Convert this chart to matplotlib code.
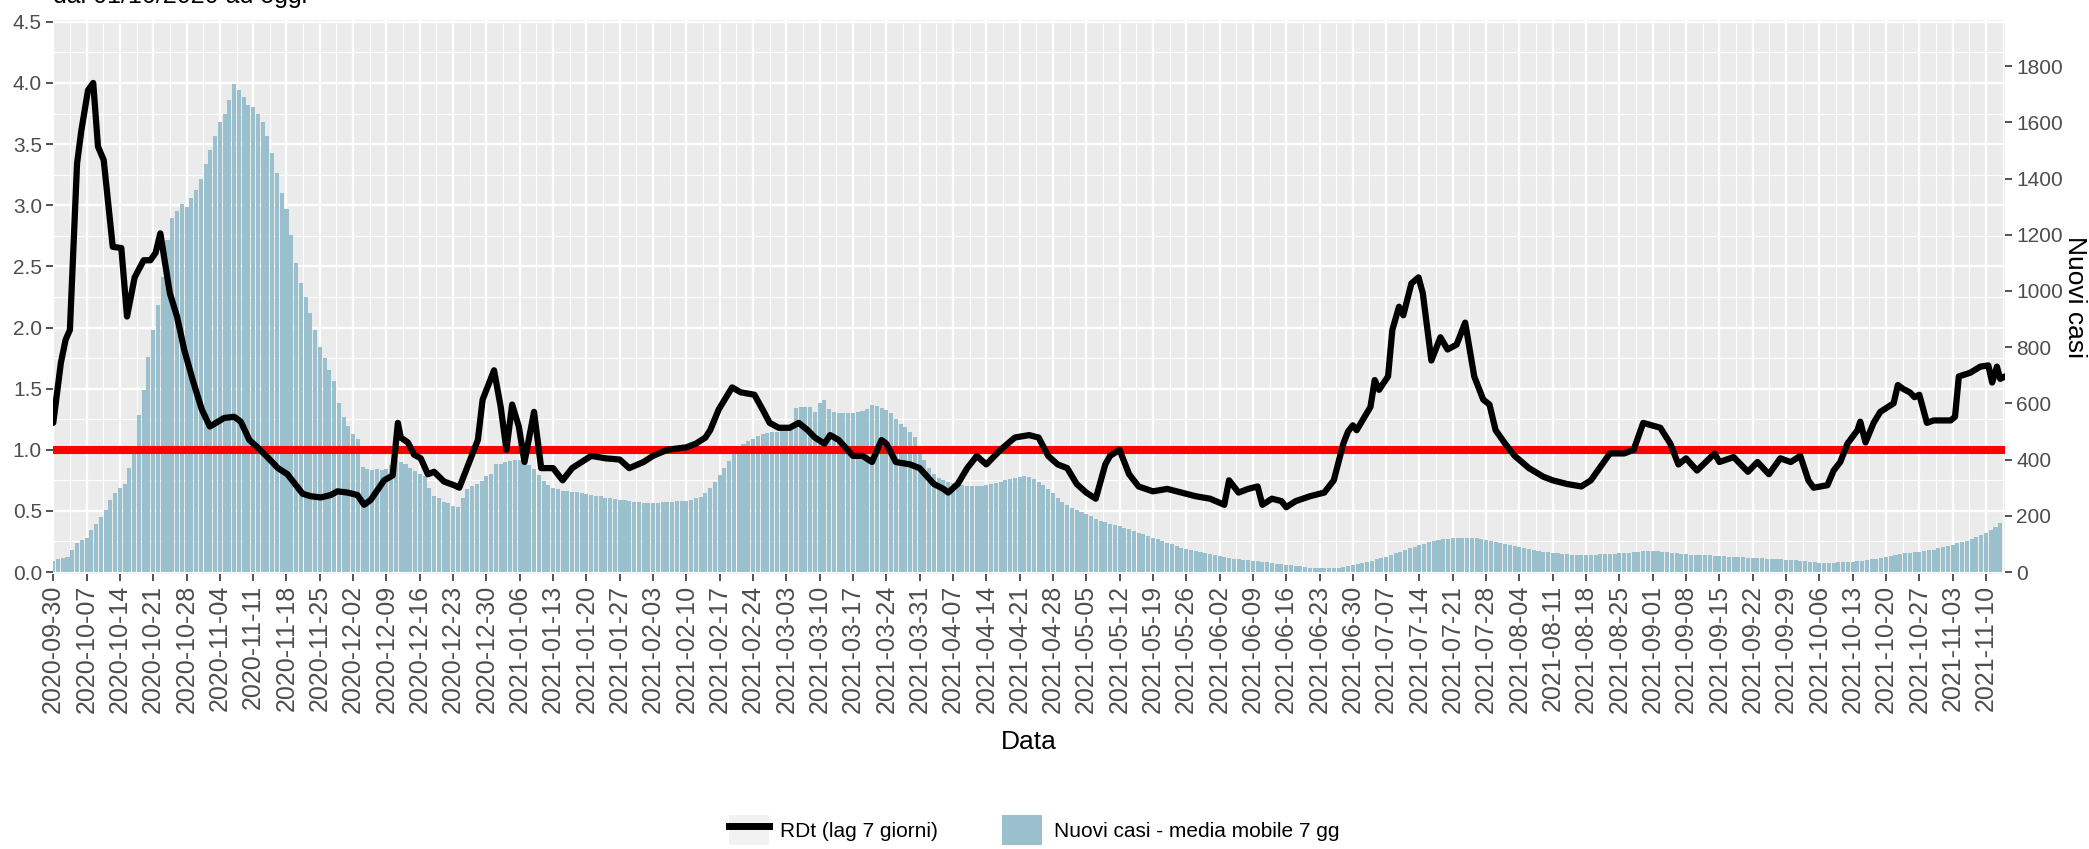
import numpy as np
import datetime as dt
import matplotlib
matplotlib.use('Agg')
import matplotlib.pyplot as plt
import matplotlib.dates as mdates
from matplotlib.patches import Patch
from matplotlib.lines import Line2D
from matplotlib.legend_handler import HandlerTuple
from matplotlib.ticker import FixedLocator, MultipleLocator, FormatStrFormatter

plt.rcParams['font.family'] = ['Liberation Sans', 'DejaVu Sans']

# ---------------- data ----------------
start_date = dt.datetime(2020, 9, 30)

# new cases, 7-day moving average (one value per day from 2020-09-30)
cases = [
    40, 45, 50, 52, 80, 105, 113, 120, 150, 170, 195, 220, 255, 280,
    300, 315, 370, 440, 560, 648, 765, 860, 950, 1050, 1180, 1260, 1285, 1310,
    1300, 1330, 1360, 1400, 1450, 1500, 1550, 1600, 1630, 1680, 1735, 1715, 1690, 1660,
    1655, 1630, 1600, 1550, 1490, 1420, 1350, 1290, 1200, 1100, 1030, 980, 920, 860,
    800, 760, 720, 680, 600, 550, 520, 490, 475, 375, 365, 362, 365, 362,
    368, 380, 400, 392, 385, 370, 358, 350, 340, 300, 270, 262, 250, 245,
    235, 232, 265, 295, 305, 315, 325, 340, 350, 383,
    385, 390, 395, 400, 400, 395, 380,
    365, 345, 325, 310, 300, 295, 290,
    288, 285, 283, 280, 278, 275, 272,
    270, 265, 262, 260, 258, 255, 252,
    250, 248, 247, 246, 246, 247, 248,
    249, 250, 251, 252, 254, 258, 262,
    268, 280, 300, 320, 345, 370, 395,
    420, 440, 455, 465, 475, 485, 490,
    495, 500, 500, 502, 505, 510, 585,
    587, 588, 588, 570, 600, 613, 580,
    568, 566, 565, 565, 567, 570, 572,
    580, 595, 590, 583, 575, 566, 545,
    525, 515, 500, 480, 440, 400, 370,
    350, 335, 328, 322, 316, 312, 308,
    306, 305, 305, 306, 308, 312, 318,
    322, 326, 330, 335, 338, 340, 338,
    332, 322, 310, 295, 280, 265, 250,
    238, 228, 220, 212, 205, 198, 190,
    183, 177, 172, 168, 163, 158, 152,
    146, 140, 134, 128, 122, 116, 110,
    104, 98, 92, 87, 82, 78, 74,
    70, 66, 63, 60, 57, 54, 51,
    48, 46, 44, 42, 40, 38, 36,
    34, 32, 30, 28, 26, 24, 22,
    20, 18, 16, 15, 14, 13, 13,
    14, 16, 18, 21, 25, 29, 33,
    37, 41, 45, 50, 55, 60, 66,
    72, 78, 84, 90, 96, 101, 106,
    110, 113, 116, 118, 120, 121, 122,
    122, 121, 120, 118, 115, 112, 108,
    104, 100, 96, 92, 88, 85, 82,
    79, 76, 73, 70, 68, 66, 64,
    63, 62, 61, 61, 61, 61, 62,
    63, 63, 64, 65, 66, 67, 68,
    70, 72, 74, 75, 75, 74, 72,
    70, 68, 66, 64, 63, 62, 61,
    61, 60, 59, 58, 57, 56, 55,
    54, 53, 52, 51, 50, 50, 49,
    48, 47, 46, 45, 44, 43, 42,
    40, 38, 36, 34, 33, 32, 32,
    33, 34, 35, 36, 37, 39, 41,
    43, 45, 48, 51, 54, 57, 60,
    63, 66, 68, 70, 72, 75, 78,
    80, 84, 88, 92, 97, 102, 106,
    112, 118, 124, 131, 139, 150, 162,
    176,
]

# RDt (lag 7 days): day offset from 2020-09-30, value
rdt_day = [0, 1.6, 2.6, 3.5, 5, 5.9, 7.3, 8.4, 9.4, 10.6, 12.5, 14.3, 15.5, 17.1, 19,
           20.4, 21.5, 22.5, 24.5, 26, 27.5, 29.3, 31.2, 32.9, 35.9, 38, 39.4, 41.2,
           42.9, 45, 47.2, 49.2, 50.6, 52.4, 54.1, 56.2, 58.3, 59.7, 61.8, 63.9, 65.3,
           66.7, 68.1, 69.5, 71.3, 72.4, 73, 74.5, 75.8, 77.2, 78.7, 80, 82.1, 84.2,
           85.3, 87, 89.2, 90.2, 92.6, 94, 95.2, 96.4, 97.8, 99, 101, 102.5,
           105, 107, 109, 111, 113, 116, 119, 121, 124, 126, 129, 133, 135, 137,
           138, 139.8, 142.6, 144.4, 147.3, 149, 150.5, 152.4, 154.7, 156.6, 158.5,
           160, 162, 163.2, 165, 168, 170, 172, 174, 175, 177, 180, 182, 185, 187,
           188, 190, 192, 194, 196, 199, 202, 205, 207, 209, 211, 213, 215, 217,
           219, 221, 222, 224, 226, 228, 231, 234, 237, 240, 243, 246, 247, 249,
           251, 253, 254, 256, 258, 259, 261, 264, 267, 269, 271, 272, 273, 273.8,
           276.7, 277.6, 278.5, 280.4, 281.3, 282.7, 283.6, 285.3, 286.8, 287.7,
           289.5, 291.4, 292.9, 294.8, 296.6, 298.5, 300.4, 301.7, 303, 305, 307,
           310, 313, 315, 318, 321, 323, 325, 327, 330, 332, 334, 337.6, 339.7,
           341.4, 343, 345.3, 347.4, 349, 350, 353, 356, 358, 360.4, 362.8, 365,
           367, 368.7, 369.8, 372.7, 374, 375.4, 376.9, 379, 379.6, 380.7, 382.4,
           383.8, 386.6, 387.5, 388.5, 390, 391, 392, 393.6, 395, 398.6, 399.5,
           400.3, 402.7, 404.8, 406.5, 407.3, 408.3, 409, 410]
rdt_val = [1.22, 1.71, 1.9, 1.98, 3.34, 3.61, 3.94, 4.0, 3.48, 3.37, 2.66, 2.65, 2.09, 2.41, 2.55,
           2.55, 2.61, 2.77, 2.28, 2.09, 1.82, 1.57, 1.33, 1.19, 1.26, 1.27, 1.23, 1.08,
           1.02, 0.94, 0.85, 0.8, 0.73, 0.64, 0.62, 0.61, 0.63, 0.66, 0.65, 0.63, 0.55,
           0.59, 0.67, 0.75, 0.79, 1.22, 1.1, 1.06, 0.96, 0.93, 0.8, 0.82, 0.74, 0.71,
           0.69, 0.86, 1.08, 1.41, 1.65, 1.35, 1.0, 1.37, 1.19, 0.9, 1.31, 0.85,
           0.85, 0.75, 0.85, 0.9, 0.95, 0.93, 0.92, 0.85, 0.9, 0.95, 1.0, 1.02, 1.05, 1.1,
           1.16, 1.33, 1.51, 1.47, 1.45, 1.33, 1.22, 1.18, 1.18, 1.22, 1.16,
           1.1, 1.05, 1.12, 1.08, 0.95, 0.95, 0.9, 1.08, 1.05, 0.9, 0.88, 0.85, 0.72, 0.68,
           0.65, 0.72, 0.85, 0.95, 0.88, 1.0, 1.1, 1.12, 1.1, 0.95, 0.88, 0.85, 0.72, 0.65,
           0.6, 0.88, 0.95, 1.0, 0.8, 0.7, 0.66, 0.68, 0.65, 0.62, 0.6, 0.55, 0.75, 0.65,
           0.68, 0.7, 0.55, 0.6, 0.58, 0.53, 0.58, 0.62, 0.65, 0.75, 1.05, 1.15, 1.2, 1.16,
           1.35, 1.57, 1.49, 1.6, 1.98, 2.17, 2.1, 2.36, 2.41, 2.28,
           1.73, 1.92, 1.82, 1.86, 2.04, 1.6, 1.41, 1.37, 1.16, 1.05, 0.95,
           0.85, 0.78, 0.75, 0.72, 0.7, 0.75, 0.86, 0.97, 0.97, 1.0, 1.22, 1.18, 1.05,
           0.88, 0.93, 0.83, 0.91, 0.97, 0.9, 0.94, 0.82, 0.9, 0.8, 0.93, 0.9,
           0.95, 0.75, 0.69, 0.71, 0.83, 0.9, 1.05, 1.16, 1.23, 1.06, 1.22,
           1.31, 1.38, 1.53, 1.5, 1.47, 1.43, 1.45, 1.22, 1.24, 1.24, 1.27,
           1.6, 1.63, 1.68, 1.69, 1.55, 1.68, 1.58, 1.6]

threshold = 1.0
SCALE = 435.0          # secondary axis factor (cases per RDt unit)

left_ticks = [0.0, 0.5, 1.0, 1.5, 2.0, 2.5, 3.0, 3.5, 4.0, 4.5]
right_ticks = [0, 200, 400, 600, 800, 1000, 1200, 1400, 1600, 1800]
n_weeks = 59

title = "dal 01/10/2020 ad oggi"
x_title = "Data"
y2_title = "Nuovi casi"
lab_line = "RDt (lag 7 giorni)"
lab_bar = "Nuovi casi - media mobile 7 gg"

# ---------------- figure ----------------
W, H = 2089, 849
fig = plt.figure(figsize=(W / 100, H / 100), dpi=100)
ax = fig.add_axes([53 / W, 1 - 574 / H, (2005 - 53) / W, (574 - 20) / H])
ax.set_facecolor('#EBEBEB')
for s in ax.spines.values():
    s.set_visible(False)

x0 = mdates.date2num(start_date)
bar_x = x0 + np.arange(len(cases))
ax.bar(bar_x, np.array(cases) / SCALE, width=0.85, color='#9AC0CD',
       linewidth=0, zorder=2)
ax.axhline(threshold, color='#FF0000', lw=5.8, zorder=3)
ax.plot(x0 + np.array(rdt_day), rdt_val, color='black', lw=4.5, zorder=4,
        solid_joinstyle='round', solid_capstyle='round')

ax.set_xlim(x0 - 0.05, x0 + 410.0)
ax.set_ylim(-0.016, 4.515)

major = x0 + 7 * np.arange(n_weeks)
minor = major + 3.5
ax.xaxis.set_major_locator(FixedLocator(major))
ax.xaxis.set_minor_locator(FixedLocator(minor))
ax.xaxis.set_major_formatter(mdates.DateFormatter('%Y-%m-%d'))
ax.yaxis.set_major_locator(FixedLocator(left_ticks))
ax.yaxis.set_minor_locator(MultipleLocator(0.25))
ax.yaxis.set_major_formatter(FormatStrFormatter('%.1f'))

ax.set_axisbelow(True)
ax.grid(which='major', color='white', lw=1.7)
ax.grid(which='minor', color='white', lw=0.8)

ax.tick_params(which='major', length=5, width=1.2, color='#333333',
               labelcolor='#4D4D4D', pad=3)
ax.tick_params(which='minor', length=0)
ax.tick_params(axis='x', labelsize=18, labelrotation=90)
ax.tick_params(axis='y', labelsize=15)

sec = ax.secondary_yaxis('right', functions=(lambda v: v * SCALE,
                                              lambda c: c / SCALE))
sec.set_yticks(right_ticks)
sec.tick_params(length=5, width=1.2, color='#333333', labelcolor='#4D4D4D',
                labelsize=15, pad=3)
for s in sec.spines.values():
    s.set_visible(False)

fig.text(1029 / W, 1 - 742 / H, x_title, ha='center', va='center', fontsize=19)
fig.text(2075 / W, 1 - 297 / H, y2_title, ha='center', va='center',
         fontsize=19, rotation=-90)
fig.text(53 / W, 1 - 3 / H, title, ha='left', va='baseline', fontsize=18)

handles = [(Patch(facecolor='#F2F2F2', edgecolor='none'),
            Line2D([], [], color='black', lw=5)),
           Patch(facecolor='#9AC0CD', edgecolor='none')]
fig.legend(handles=handles, labels=[lab_line, lab_bar],
           handler_map={tuple: HandlerTuple(ndivide=1, pad=0)},
           loc='center', bbox_to_anchor=(1034 / W, 1 - 830 / H), ncol=2,
           frameon=False, fontsize=15, handlelength=1.9, handleheight=1.9,
           handletextpad=0.55, columnspacing=3.1, borderpad=0, borderaxespad=0)

fig.savefig('out.png', dpi=100)
